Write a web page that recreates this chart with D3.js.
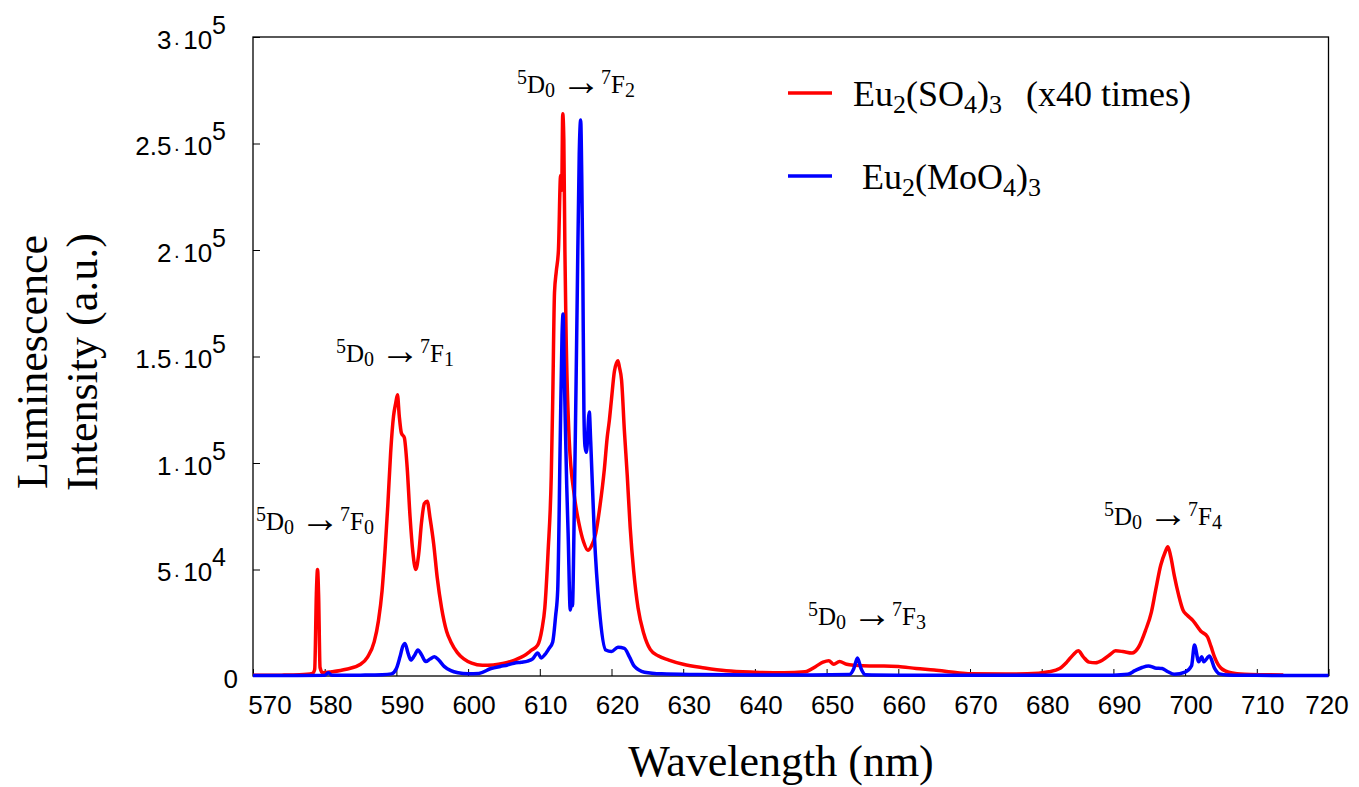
<!DOCTYPE html>
<html><head><meta charset="utf-8">
<script src="https://cdn.jsdelivr.net/npm/d3@7"></script>
<style>body{margin:0;background:#fff} svg{display:block}</style>
</head><body>
<svg id="chart" width="1359" height="787"></svg>
<script>
// ---------------- DATA ----------------
const redWavelength = [570,574,576.5,578.3,578.6,578.85,579.0,579.15,579.35,579.7,581,583,585,586,586.9,587.5,588.0,588.4,588.8,589.2,589.6,589.9,590.15,590.4,590.7,591.1,591.5,591.9,592.3,592.7,593.1,593.5,593.9,594.3,594.7,595.2,595.7,596.3,597,597.6,598.5,599.4,600.5,602,603.5,605,606.5,607.8,608.8,609.7,610.3,610.7,611.15,611.6,611.8,612.05,612.3,612.6,612.9,613.05,613.2,613.35,613.5,613.65,614.1,614.8,615.5,616.1,616.7,617.2,617.8,618.4,619.0,619.4,619.7,620.0,620.4,620.7,620.9,621.1,621.4,621.8,622.2,622.6,623.1,623.7,624.5,625.4,626.5,628,630,633,636,640,644,647,648.5,649.5,650.3,651,651.8,652.8,654,656,658,660,662.5,665,668,670,675,678,681,682.5,683.5,684.4,685.1,685.8,686.6,687.5,688.5,689.5,690.3,691.3,692.6,693.5,694.5,695.3,695.9,696.6,697.2,697.6,698.0,698.5,699.1,699.7,700.3,701.1,702.2,703.1,703.6,704.1,705,706.4,708.3,711,713.7];
const redIntensity = [300,400,600,1200,3000,40000,50000,38000,4000,1500,2000,3200,5500,9000,16000,26000,40000,58000,80000,105000,122000,128000,132000,122000,114000,112000,98000,75000,58000,50000,57000,72000,81000,82000,74000,62000,46000,32000,21000,16000,11000,8000,6000,5000,5200,6000,7500,9500,12000,14500,22000,32000,58000,94000,129000,180000,190000,200000,235000,228000,264000,252000,200000,164000,111000,85000,71000,63000,59000,61000,67000,80000,97000,112000,120000,130000,143000,147000,148000,145000,139000,115000,94000,70000,49000,32000,20000,12500,9500,7500,5500,3800,2500,1800,1500,2000,4500,6500,7200,5500,6800,5500,5000,4700,4700,4500,3500,2800,1600,1000,900,1000,2000,3500,6500,10000,11800,9000,6500,6200,7500,10000,11800,11500,10800,13500,21600,30000,40400,52000,58000,60700,56000,47000,38000,31000,28500,26000,21000,18500,14000,9000,3700,1500,800,600,500];

const blueWavelength = [570,575,580,580.5,581,585,588,589.3,590.0,590.5,590.9,591.2,591.6,592.0,592.5,593.0,593.5,594.1,594.7,595.3,595.9,596.7,597.6,598.6,600,601.5,603.2,604.5,605.5,606.4,607.4,608.3,609.0,609.7,610.2,610.7,611.3,611.8,612.2,612.5,612.85,613.1,613.25,613.4,613.55,613.75,613.95,614.25,614.4,614.55,614.8,615.2,615.5,615.7,615.85,616.0,616.15,616.3,616.5,616.9,617.1,617.6,618.3,619.2,620.0,620.9,621.8,622.5,623.2,624.6,627,632,640,648,653.2,653.8,654.3,654.8,655.4,660,670,680,690,692,693,694,694.9,695.8,696.8,697.6,698.5,700,700.9,701.3,701.9,702.3,702.6,703.4,704.1,704.8,706,710,720];
const blueIntensity = [200,250,300,1500,300,400,600,1000,3500,9000,14000,15300,11000,7500,9500,12200,10000,6800,8000,9000,7500,4400,2500,1500,1000,1200,3500,4500,5200,6000,6500,7000,8000,10800,8500,10000,13000,16000,28000,40500,111000,160000,170000,145000,120000,90000,67000,31000,34000,33000,76000,173000,245000,261000,235000,190000,125000,108000,105000,124000,110000,67000,31700,12200,11500,13500,13000,9000,4500,1800,1000,700,500,500,700,3500,8500,3500,600,400,300,300,400,800,2500,4000,4700,3800,3500,2000,800,1800,4800,14500,6700,9000,6700,9400,3700,1000,500,300,200];

const xTickValues = [570,580,590,600,610,620,630,640,650,660,670,680,690,700,710,720];
const yTickValues = [0,50000,100000,150000,200000,250000,300000];
const xTitle = "Wavelength (nm)";
const yTitleLines = ["Luminescence", "Intensity (a.u.)"];
const seriesColors = ["#ff0000", "#0000ff"];
const transitionLabels = ["0","1","2","3","4"];

// ---------------- CHART ----------------
const svg = d3.select("#chart");
const L = 253, R = 1328.5, T = 37, B = 676;
const x = d3.scaleLinear().domain([570,720]).range([L,R]);
const y = d3.scaleLinear().domain([0,300000]).range([B,T]);
const serif = "Liberation Serif, Times New Roman, serif";
const sans = "Liberation Sans, Arial, sans-serif";

function rich(sel, parts, size, small) {
  let cur = 0;
  parts.forEach(p => {
    const target = p.t === "sup" ? -p.sh : p.t === "sub" ? p.sh : (p.shift || 0);
    const ts = sel.append("tspan").text(p.s)
      .attr("font-family", serif)
      .attr("font-size", p.t ? small : (p.fs || size));
    if (target !== cur) ts.attr("dy", target - cur);
    if (p.dx) ts.attr("dx", p.dx);
    cur = target;
  });
}

// x axis
const xAxis = svg.append("g").attr("transform", `translate(0,${B})`)
  .call(d3.axisBottom(x).tickValues(xTickValues).tickSizeInner(-7).tickSizeOuter(0).tickFormat(d3.format("d")));
xAxis.select(".domain").remove();
xAxis.selectAll(".tick line").attr("stroke", "#000").attr("stroke-width", 1);
xAxis.selectAll(".tick text")
  .attr("font-family", sans).attr("font-size", 26).attr("fill", "#000")
  .attr("y", 38).attr("dy", null)
  .attr("x", (d, i) => i === 0 ? 16.5 : (i === xTickValues.length - 1 ? -2 : 5.5));

// y axis
const yAxis = svg.append("g").attr("transform", `translate(${L},0)`)
  .call(d3.axisLeft(y).tickValues(yTickValues).tickSizeInner(-7).tickSizeOuter(0).tickFormat(""));
yAxis.select(".domain").remove();
yAxis.selectAll(".tick line").attr("stroke", "#000").attr("stroke-width", 1);
yAxis.selectAll(".tick text").each(function(d) {
  const t = d3.select(this);
  t.text("").attr("font-family", sans).attr("font-size", 26).attr("fill", "#000")
    .attr("text-anchor", "end").attr("dy", null).attr("y", 11);
  if (d === 0) { t.attr("x", -15).text("0"); return; }
  const e = Math.floor(Math.log10(d) + 1e-9);
  const m = +(d / Math.pow(10, e)).toFixed(2);
  t.attr("x", -27);
  t.append("tspan").text(String(m));
  t.append("tspan").text("\u00B7").attr("dx", 2).attr("font-size", 20);
  t.append("tspan").text("10").attr("dx", 3);
  t.append("tspan").text(String(e)).attr("dy", -15).attr("font-size", 25);
});

// frame
svg.append("rect").attr("x", L).attr("y", T).attr("width", R - L).attr("height", B - T)
  .attr("fill", "none").attr("stroke", "#000").attr("stroke-width", 1.3);

// lines
const line = d3.line().x(d => x(d[0])).y(d => y(d[1])).curve(d3.curveMonotoneX);
const redData = redWavelength.map((w, i) => [w, redIntensity[i]]);
const blueData = blueWavelength.map((w, i) => [w, blueIntensity[i]]);
const plot = svg.append("g");
plot.append("path").datum(redData).attr("d", line).attr("fill", "none")
  .attr("stroke", seriesColors[0]).attr("stroke-width", 3.5).attr("stroke-linejoin", "round");
plot.append("path").datum(blueData).attr("d", line).attr("fill", "none")
  .attr("stroke", seriesColors[1]).attr("stroke-width", 3.5).attr("stroke-linejoin", "round");

// axis titles
svg.append("text").attr("x", 781).attr("y", 776).attr("text-anchor", "middle")
  .attr("font-family", serif).attr("font-size", 44).attr("fill", "#000").text(xTitle);
[[47, yTitleLines[0]], [97, yTitleLines[1]]].forEach(([bx, s]) => {
  svg.append("text").attr("transform", `translate(${bx},362) rotate(-90)`).attr("text-anchor", "middle")
    .attr("font-family", serif).attr("font-size", 44).attr("fill", "#000").text(s);
});

// transition annotations
const annPos = [[256, 530], [336, 362], [517, 93], [808, 625], [1104, 525]];
transitionLabels.forEach((n, i) => {
  const t = svg.append("text").attr("x", annPos[i][0]).attr("y", annPos[i][1])
    .attr("font-family", serif).attr("fill", "#000");
  rich(t, [
    {s: "5", t: "sup", sh: 9}, {s: "D"}, {s: "0", t: "sub", sh: 4},
    {s: "\u2192", fs: 40, shift: 2, dx: 6}, {s: "7", t: "sup", sh: 9, dx: 0}, {s: "F"}, {s: n, t: "sub", sh: 4}
  ], 25, 20);
});

// legend
const legendItems = [
  {y: 93, parts: [{s:"Eu"},{s:"2",t:"sub",sh:7},{s:"(SO"},{s:"4",t:"sub",sh:7},{s:")"},{s:"3",t:"sub",sh:7},{s:"(x40 times)", dx: 24}], tx: 853},
  {y: 176, parts: [{s:"Eu"},{s:"2",t:"sub",sh:7},{s:"(MoO"},{s:"4",t:"sub",sh:7},{s:")"},{s:"3",t:"sub",sh:7}], tx: 862}
];
legendItems.forEach((it, i) => {
  svg.append("line").attr("x1", 788).attr("x2", 832).attr("y1", it.y).attr("y2", it.y)
    .attr("stroke", seriesColors[i]).attr("stroke-width", 3.4);
  const t = svg.append("text").attr("x", it.tx).attr("y", it.y + 13)
    .attr("font-family", serif).attr("fill", "#000");
  rich(t, it.parts, 36, 26);
});
</script>
</body></html>
